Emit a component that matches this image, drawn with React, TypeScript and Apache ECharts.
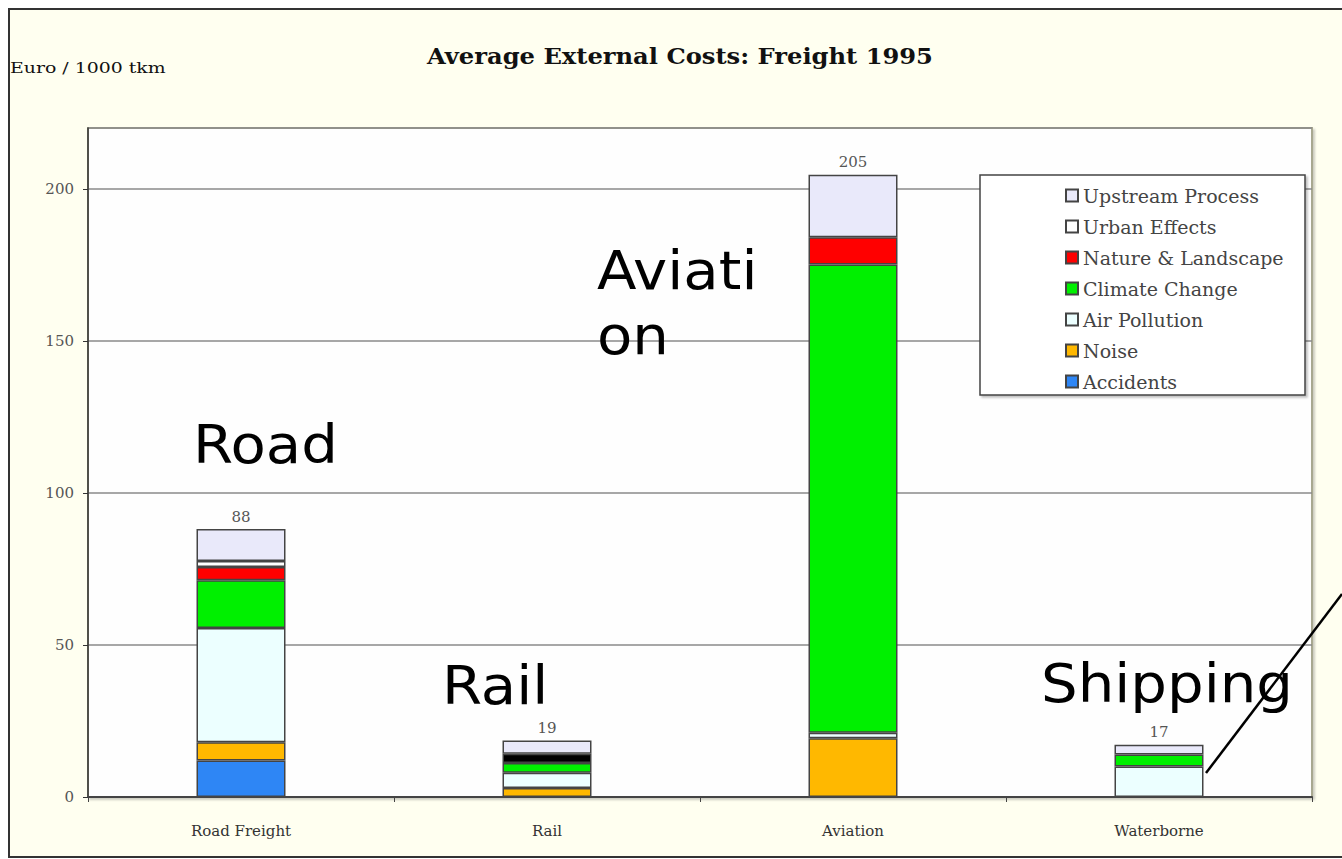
import React, { useEffect, useRef } from "react";
import * as echarts from "echarts";

const categories = ["Road Freight", "Rail", "Aviation", "Waterborne"];
const seriesNames = [
  "Accidents",
  "Noise",
  "Air Pollution",
  "Climate Change",
  "Nature & Landscape",
  "Urban Effects",
  "Upstream Process",
];
const accidents = [12, 0, 0, 0];
const noise = [6, 3, 19.3, 0];
const airPollution = [37.6, 5, 1.8, 10];
const climateChange = [15.7, 3.2, 154, 4];
const natureLandscape = [4.3, 0, 9, 0];
const urbanEffects = [2, 3, 0, 0];
const upstreamProcess = [10.5, 4.4, 20.5, 3.2];
const totals = [88, 19, 205, 17];
const yTicks = { min: 0, max: 220, interval: 50 };

const seriesValues = [
  accidents,
  noise,
  airPollution,
  climateChange,
  natureLandscape,
  urbanEffects,
  upstreamProcess,
];
const seriesColors = [
  "#2E86F5",
  "#FFB800",
  "#ECFFFF",
  "#00F000",
  "#FF0000",
  "#FFFFFF",
  "#E9E9FA",
];

const SERIF = "'DejaVu Serif', 'Liberation Serif', serif";
const SANS = "'DejaVu Sans', Verdana, sans-serif";

export default function App() {
  const ref = useRef<HTMLDivElement>(null);
  useEffect(() => {
    document.body.style.margin = "0";
    const chart = echarts.init(ref.current!, null, { renderer: "svg" });
    const series: any[] = seriesNames.map((name, si) => ({
      name,
      type: "bar",
      stack: "total",
      barWidth: 89,
      itemStyle: { color: seriesColors[si], borderColor: "#444", borderWidth: 1.5 },
      data: seriesValues[si].map((v, ci) => {
        if (v === 0) return "-";
        if (name === "Urban Effects" && ci === 1) {
          return { value: v, itemStyle: { color: "#000000" } };
        }
        return v;
      }),
      label:
        name === "Upstream Process"
          ? {
              show: true,
              position: "top",
              distance: 5,
              color: "#555",
              fontFamily: SERIF,
              fontSize: 15,
              formatter: (p: any) => String(totals[p.dataIndex]),
            }
          : { show: false },
    }));

    const overlay = (text: string, x: number, y: number) => ({
      type: "text",
      x,
      y,
      z: 100,
      scaleX: 1.09,
      style: {
        text,
        fill: "#000",
        font: `53px ${SANS}`,
        textAlign: "left",
        verticalAlign: "middle",
      },
    });

    chart.setOption({
      animation: false,
      backgroundColor: "transparent",
      graphic: [
        {
          type: "rect",
          z: -10,
          shape: { x: 9, y: 9, width: 1345, height: 848 },
          style: { fill: "#FFFFF0", stroke: "#333", lineWidth: 2 },
        },
        {
          type: "text",
          x: 680,
          y: 56,
          z: 5,
          scaleX: 1.1,
          style: {
            text: "Average External Costs: Freight 1995",
            fill: "#111",
            font: `bold 22px ${SERIF}`,
            textAlign: "center",
            verticalAlign: "middle",
          },
        },
        {
          type: "text",
          x: 10,
          y: 68,
          z: 5,
          scaleX: 1.26,
          style: {
            text: "Euro / 1000 tkm",
            fill: "#111",
            font: `15px ${SERIF}`,
            textAlign: "left",
            verticalAlign: "middle",
          },
        },
        {
          type: "rect",
          z: 3,
          shape: { x: 980, y: 175, width: 325, height: 220 },
          style: {
            fill: "#FFFFFF",
            stroke: "#444",
            lineWidth: 1.5,
            shadowColor: "rgba(0,0,0,0.25)",
            shadowOffsetX: 2,
            shadowOffsetY: 2,
            shadowBlur: 2,
          },
        },
        overlay("Road", 193, 445),
        overlay("Aviati", 597, 271),
        overlay("on", 597, 336),
        overlay("Rail", 442, 686),
        overlay("Shipping", 1041, 684),
        {
          type: "line",
          z: 100,
          shape: { x1: 1206, y1: 773, x2: 1342, y2: 594 },
          style: { stroke: "#000", lineWidth: 2.5 },
        },
      ],
      legend: {
        orient: "vertical",
        left: 1060,
        top: 181,
        z: 10,
        icon: "rect",
        itemWidth: 12,
        itemHeight: 12,
        itemGap: 12,
        itemTextGap: 9,
        data: [...seriesNames].reverse(),
        textStyle: { fontFamily: SERIF, fontSize: 19, color: "#444", lineHeight: 19 },
      },
      grid: {
        show: true,
        left: 88,
        right: 30,
        top: 128,
        bottom: 62,
        backgroundColor: "#FEFEFE",
        borderColor: "#A8A890",
        borderWidth: 2,
        shadowColor: "rgba(0,0,0,0.2)",
        shadowOffsetX: 2,
        shadowOffsetY: 2,
        shadowBlur: 2,
      },
      xAxis: {
        type: "category",
        data: categories,
        axisLine: { lineStyle: { color: "#444", width: 2 } },
        axisTick: { show: true, length: 5, lineStyle: { color: "#444" } },
        axisLabel: { color: "#333", fontFamily: SERIF, fontSize: 15, margin: 26 },
      },
      yAxis: {
        type: "value",
        min: yTicks.min,
        max: yTicks.max,
        interval: yTicks.interval,
        axisLine: { show: true, lineStyle: { color: "#333", width: 1.5 } },
        axisTick: { show: true, length: 5, lineStyle: { color: "#333" } },
        axisLabel: { color: "#555", fontFamily: SERIF, fontSize: 15, margin: 14, showMaxLabel: false },
        splitLine: { show: true, lineStyle: { color: "#8A8A8A", width: 1.5 } },
      },
      series,
    });
    return () => chart.dispose();
  }, []);
  return <div ref={ref} style={{ width: 1342, height: 859 }} />;
}
